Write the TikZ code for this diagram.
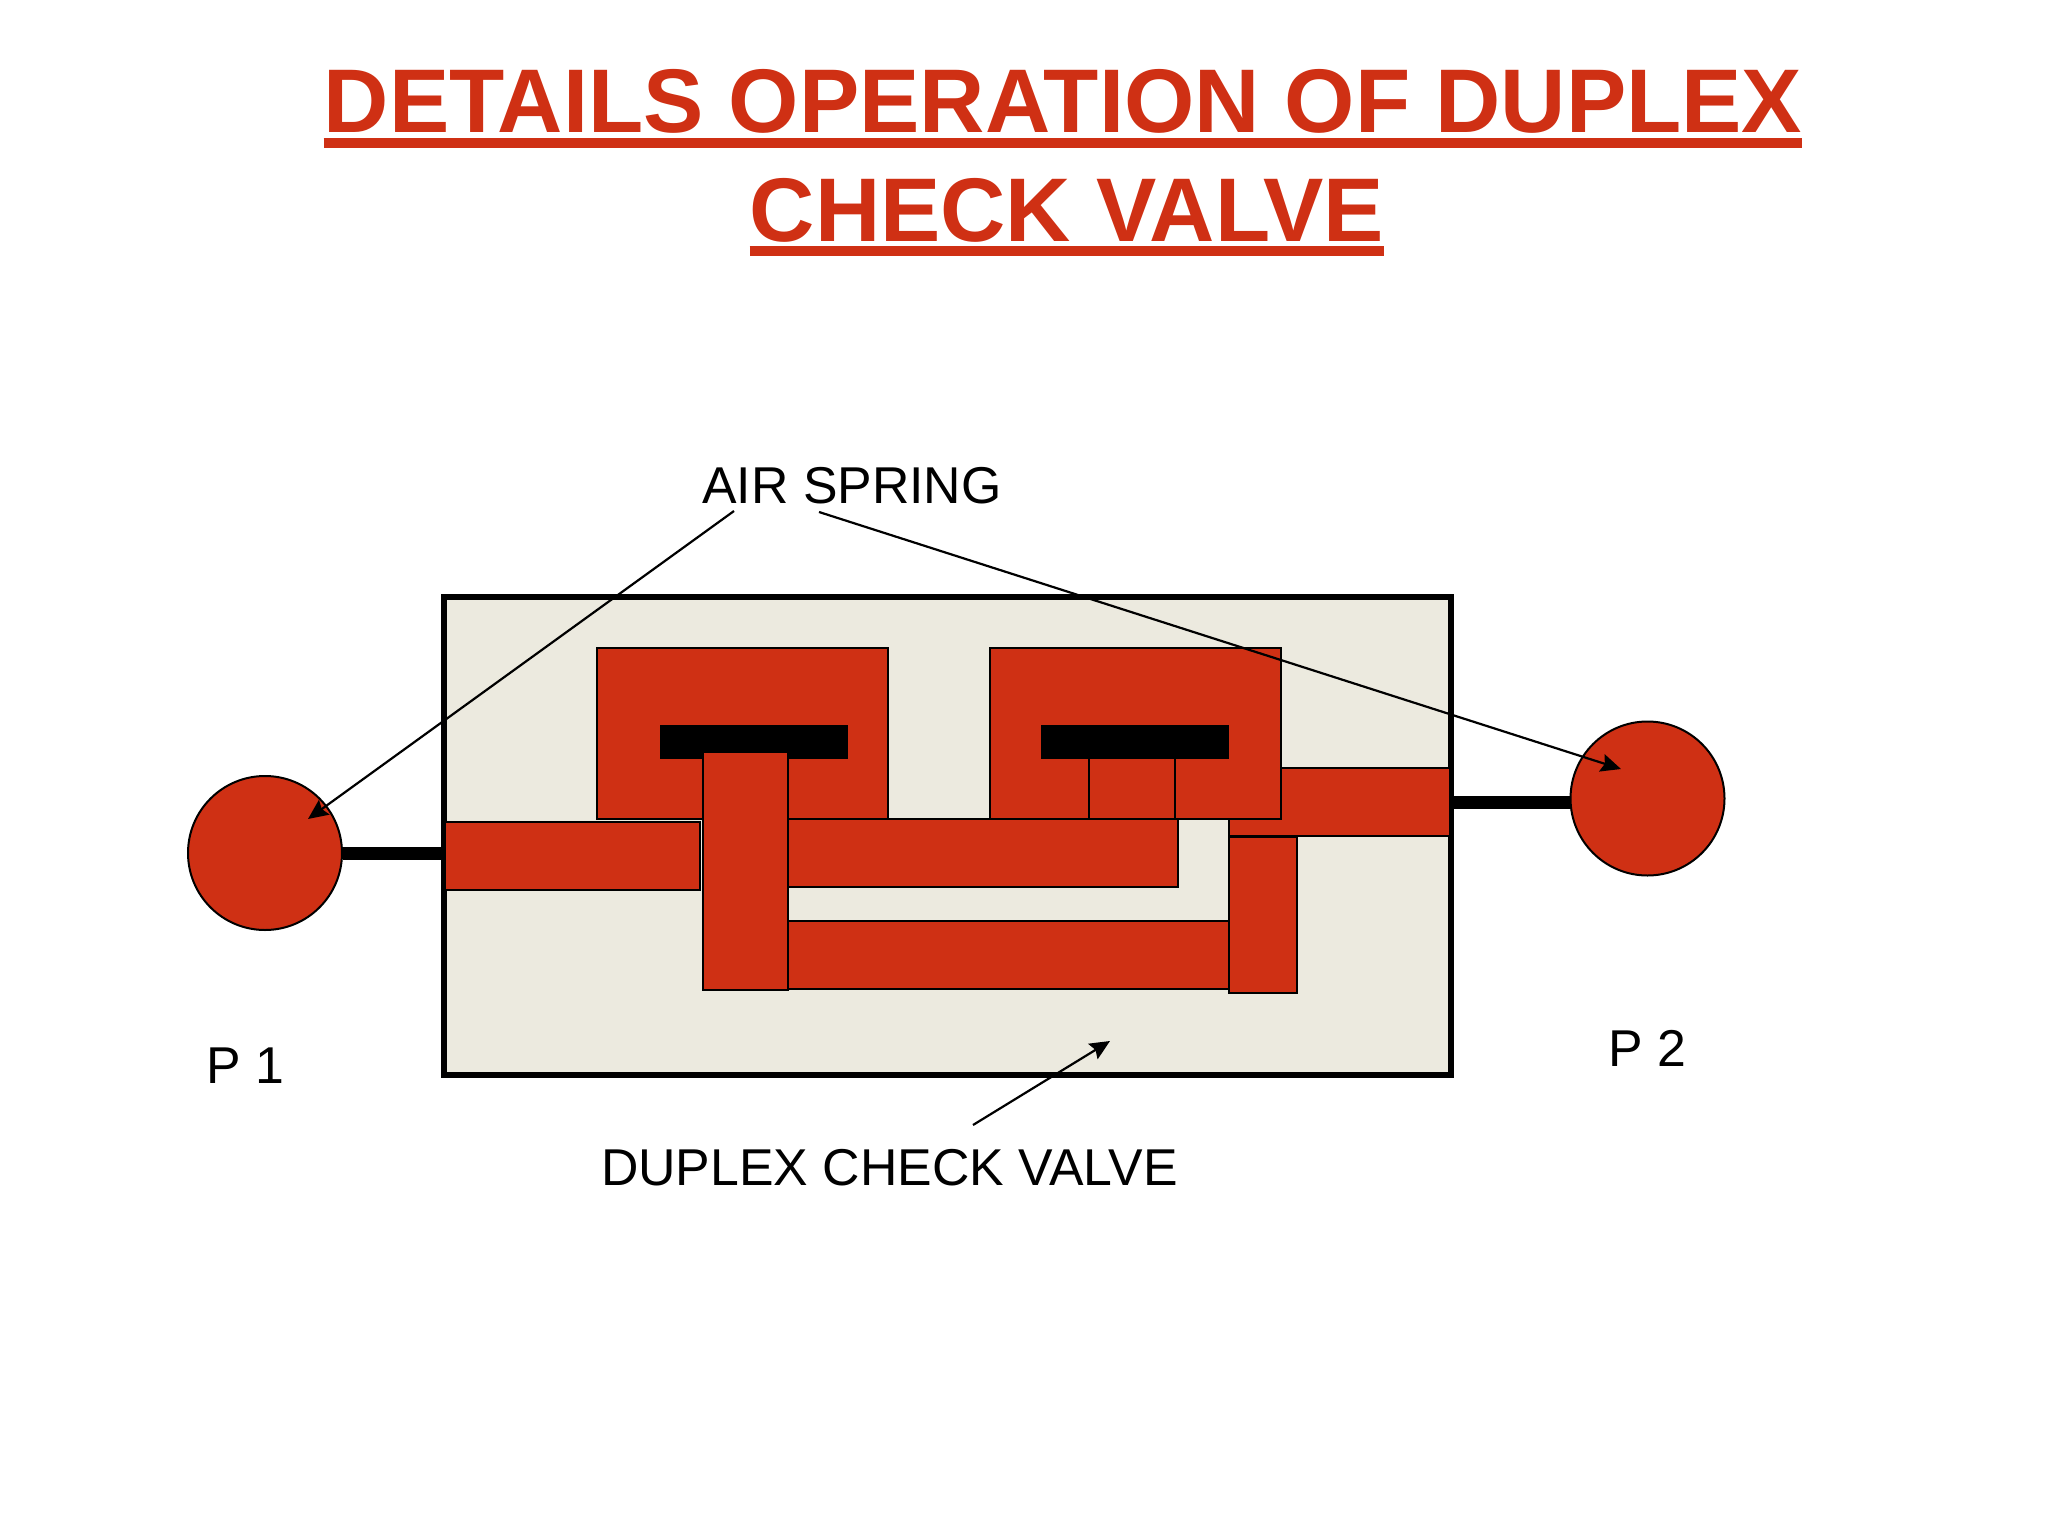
\documentclass[tikz,border=0pt]{standalone}
\usepackage{fontspec}
\setmainfont{Liberation Sans}
\usetikzlibrary{arrows.meta}
\definecolor{partred}{HTML}{CF3014}
\definecolor{bodygrey}{HTML}{ECEADF}
\tikzset{
    part/.style={draw=black,line width=2pt,fill=partred},
    slot/.style={fill=black},
    pipeline/.style={line width=13pt},
    portnode/.style={circle,draw=black,line width=2pt,fill=partred,minimum size=154pt,inner sep=0pt},
    leader/.style={line width=2.2pt,-{Stealth[length=20pt,width=18pt,inset=3pt]}},
    titletext/.style={inner sep=0pt,anchor=base,text=partred,font=\fontsize{90.4}{91}\selectfont\bfseries},
    labeltext/.style={inner sep=0pt,anchor=base,font=\fontsize{51.8}{54}\selectfont},
    titleline/.style={draw=partred,line width=10pt}
}
\begin{document}
\begin{tikzpicture}[x=1pt,y=-1pt]
    \useasboundingbox (0,0) rectangle (2048,1536);
    % title
    \node [titletext] (titleone) at (1063,132) {DETAILS OPERATION OF DUPLEX};
    \node [titletext] (titletwo) at (1067,241) {CHECK VALVE};
    \draw [titleline] ([yshift=-11pt]titleone.base west)--([yshift=-11pt]titleone.base east);
    \draw [titleline] ([yshift=-10pt]titletwo.base west)--([yshift=-10pt]titletwo.base east);
    % valve body
    \draw [line width=6pt,fill=bodygrey] (444,597) rectangle (1451,1075);
    \draw [part] (1229,768) rectangle (1450,836);
    \draw [part] (597,648) rectangle (888,819);
    \draw [part] (990,648) rectangle (1281,819);
    \draw [part] (445,822) rectangle (700,890);
    \draw [part] (787,819) rectangle (1178,887);
    \draw [part] (787,921) rectangle (1229,989);
    \draw [part] (1229,837) rectangle (1297,993);
    \fill [slot] (660,725) rectangle (848,759);
    \fill [slot] (1041,725) rectangle (1229,759);
    \draw [part] (703,752) rectangle (788,990);
    \draw [line width=2pt] (1089,759)--(1089,819) (1175,759)--(1175,819);
    % ports
    \node [portnode] (pone) at (265,853) {};
    \node [portnode] (ptwo) at (1647.5,798.5) {};
    \coordinate (inone) at (441,853);
    \coordinate (intwo) at (1454,802);
    \coordinate (outtwo) at (1571,802);
    \draw [pipeline] (pone.east)--(inone);
    \draw [pipeline] (intwo)--(outtwo);
    \node [labeltext] (lone) at (245.5,1083.5) {P 1};
    \node [labeltext] (ltwo) at (1647,1066.5) {P 2};
    % labels and leaders
    \node [labeltext] (air) at (852,503.5) {AIR SPRING};
    \node [labeltext] (duplex) at (889.5,1185.5) {DUPLEX CHECK VALVE};
    \coordinate (aira) at (734,511);
    \coordinate (airb) at (819,512);
    \coordinate (tipa) at (308,819);
    \coordinate (tipb) at (1621,769);
    \coordinate (dupa) at (973,1125);
    \coordinate (dupb) at (1110,1041);
    \draw [leader] (aira)--(tipa);
    \draw [leader] (airb)--(tipb);
    \draw [leader] (dupa)--(dupb);
\end{tikzpicture}
\end{document}
